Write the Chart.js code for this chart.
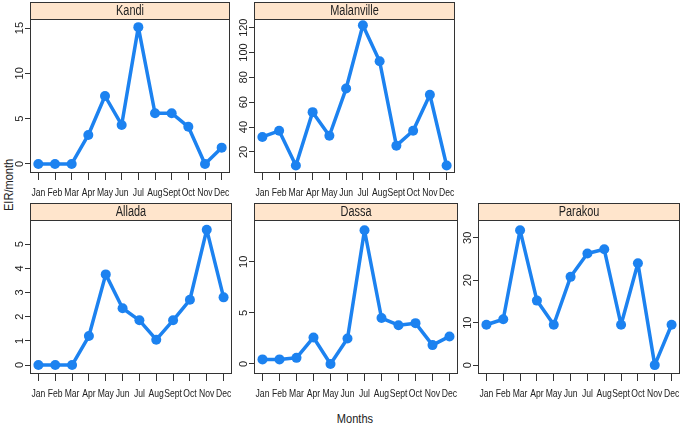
<!DOCTYPE html>
<html>
<head>
<meta charset="utf-8">
<script src="https://cdn.jsdelivr.net/npm/chart.js@4"></script>
<style>
  body { margin: 0; background: #fff; width: 685px; height: 424px; position: relative; overflow: hidden; }
  canvas { position: absolute; }
  .lab { position: absolute; font-family: 'Liberation Sans', Arial, sans-serif; color: #222; font-size: 13px; white-space: nowrap; }
</style>
</head>
<body>
<div class="lab" style="left:-22px; top:178px; transform: rotate(-90deg) scaleX(0.85); width:60px; text-align:center;">EIR/month</div>
<div class="lab" style="left:325px; top:411px; width:60px; text-align:center; transform: scaleX(0.85);">Months</div>

<script>
// Monthly EIR per site
const months = ['Jan', 'Feb', 'Mar', 'Apr', 'May', 'Jun', 'Jul', 'Aug', 'Sept', 'Oct', 'Nov', 'Dec'];
const kandi = [0, 0, 0, 3.2, 7.5, 4.3, 15.1, 5.6, 5.6, 4.1, 0, 1.8];
const malanville = [32, 37, 9, 52, 33, 71, 122, 93, 25, 37, 66, 9];
const allada = [0, 0, 0, 1.2, 3.75, 2.35, 1.85, 1.05, 1.85, 2.7, 5.6, 2.8];
const dassa = [0.45, 0.45, 0.6, 2.6, 0, 2.5, 13.1, 4.5, 3.8, 4.0, 1.85, 2.7];
const parakou = [9.5, 10.8, 31.8, 15.2, 9.5, 20.8, 26.3, 27.3, 9.5, 24, 0, 9.5];

// y tick labels per panel
const kandiTicks = [0, 5, 10, 15];
const malanvilleTicks = [20, 40, 60, 80, 100, 120];
const alladaTicks = [0, 1, 2, 3, 4, 5];
const dassaTicks = [0, 5, 10];
const parakouTicks = [0, 10, 20, 30];

const FONT = "'Liberation Sans', Arial, sans-serif";
const LINE = '#1c82f0';
const FRAME = '#333';
const SQUEEZE = 0.78; // the original uses a condensed face

// panel boxes: plot area left/top/right/bottom on the page
const panels = [
  { name: 'Kandi', data: kandi, ticks: kandiTicks, min: -1, max: 16, L: 30, T: 19, R: 233, B: 173 },
  { name: 'Malanville', data: malanville, ticks: malanvilleTicks, min: 3, max: 127, L: 254, T: 19, R: 458, B: 173 },
  { name: 'Allada', data: allada, ticks: alladaTicks, min: -0.37, max: 6, L: 30, T: 220, R: 235, B: 374 },
  { name: 'Dassa', data: dassa, ticks: dassaTicks, min: -0.98, max: 14.1, L: 254, T: 220, R: 461, B: 374 },
  { name: 'Parakou', data: parakou, ticks: parakouTicks, min: -2.1, max: 34.2, L: 478, T: 220, R: 683, B: 374 }
];

function squeezedText(ctx, txt, x, y) {
  ctx.save();
  ctx.translate(x, y);
  ctx.scale(SQUEEZE, 1);
  ctx.fillText(txt, 0, 0);
  ctx.restore();
}

// strip header, frame box, x labels and rotated y labels
const latticePlugin = {
  id: 'lattice',
  afterDraw(chart) {
    const { ctx, chartArea: a } = chart;
    const p = chart.options.plugins.lattice;
    ctx.save();
    // strip
    ctx.fillStyle = '#ffe5cc';
    ctx.fillRect(a.left, a.top - 17, a.right - a.left, 17);
    ctx.strokeStyle = FRAME;
    ctx.lineWidth = 1;
    ctx.strokeRect(a.left + 0.5, a.top - 16.5, a.right - a.left - 1, 17);
    ctx.fillStyle = '#222';
    ctx.font = '14px ' + FONT;
    ctx.textAlign = 'center';
    ctx.textBaseline = 'middle';
    squeezedText(ctx, p.title, (a.left + a.right) / 2, a.top - 8);
    // frame
    ctx.strokeRect(a.left + 0.5, a.top + 0.5, a.right - a.left - 1, a.bottom - a.top - 1);
    // x tick labels
    const x = chart.scales.x;
    ctx.font = '11px ' + FONT;
    chart.data.labels.forEach((lab, i) => {
      squeezedText(ctx, lab, x.getPixelForValue(i), a.bottom + 20);
    });
    // rotated y tick labels
    const y = chart.scales.y;
    ctx.font = '11px ' + FONT;
    y.ticks.forEach(t => {
      ctx.save();
      ctx.translate(a.left - 10, y.getPixelForValue(t.value));
      ctx.rotate(-Math.PI / 2);
      ctx.fillText(String(t.value), 0, 0);
      ctx.restore();
    });
    ctx.restore();
  }
};

panels.forEach(p => {
  const cx = p.L - 30, cy = p.T - 20;
  const cw = p.R - cx + 2, ch = p.B - cy + 30;
  const canvas = document.createElement('canvas');
  canvas.width = cw; canvas.height = ch;
  canvas.style.left = cx + 'px'; canvas.style.top = cy + 'px';
  canvas.style.width = cw + 'px'; canvas.style.height = ch + 'px';
  document.body.appendChild(canvas);

  new Chart(canvas.getContext('2d'), {
    type: 'line',
    data: {
      labels: months,
      datasets: [{
        data: p.data,
        borderColor: LINE,
        backgroundColor: LINE,
        borderWidth: 3.5,
        borderJoinStyle: 'round',
        borderCapStyle: 'round',
        tension: 0,
        pointRadius: 5,
        pointBorderWidth: 0,
        pointBackgroundColor: LINE
      }]
    },
    options: {
      responsive: false,
      animation: false,
      layout: { padding: { top: 20, right: 2, bottom: 2, left: 0 } },
      plugins: {
        legend: { display: false },
        tooltip: { enabled: false },
        lattice: { title: p.name }
      },
      scales: {
        x: {
          offset: true,
          grid: { drawOnChartArea: false, color: FRAME, tickLength: 7, offset: false },
          border: { display: false },
          ticks: { display: false },
          afterFit: s => { s.height = 28; }
        },
        y: {
          min: p.min,
          max: p.max,
          grid: { drawOnChartArea: false, color: FRAME, tickLength: 5 },
          border: { display: false },
          ticks: { display: false },
          afterBuildTicks: s => { s.ticks = p.ticks.map(v => ({ value: v })); },
          afterFit: s => { s.width = 30; }
        }
      }
    },
    plugins: [latticePlugin]
  });
});
</script>
</body>
</html>
